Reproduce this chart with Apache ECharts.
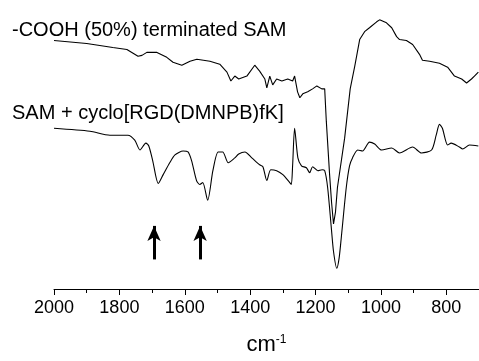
<!DOCTYPE html>
<html>
<head>
<meta charset="UTF-8"/>
<title>IR spectra</title>
<script src="https://cdn.jsdelivr.net/npm/echarts@6/dist/echarts.min.js"></script>
<style>
  html, body { margin: 0; padding: 0; background: #fff; }
  #chart { width: 479px; height: 361px; }
</style>
</head>
<body>
<div id="chart"></div>
<script type="text/javascript">
// wavenumber (cm-1) and relative intensity (a.u.)
var coohWave = [2000,1900,1820,1777,1743,1731,1716,1685,1655,1636,1609,1584,1563,1523,1493,1471,1459,1447,1435,1410,
  1386,1371,1355,1349,1340,1331,1319,1303,1285,1270,1264,1255,1248,1239,1224,1209,1196,1181,1172,1167,
  1157,1151,1145,1139,1133,1111,1094,1080,1065,1050,1035,1013,1004,983,967,952,943,922,903,882,
  873,851,821,796,775,753,738,723,714,702];
var coohVal = [252,249,245,243,236,237,240,240,235,230,227,231,233,231,228,220,211,216,213,216,
  227,221,213,204,216,207,213,211,213,211,216,200,194,198,200,203,206,203,203,170,
  116,88,66,78,103,153,203,226,253,261,265,271,273,270,265,256,253,252,248,238,
  232,231,229,225,216,213,209,213,216,220];

var rgdWave = [2000,1890,1829,1774,1753,1737,1719,1710,1698,1681,1666,1646,1630,1605,1590,1579,1564,1554,1545,1530,
  1514,1498,1484,1467,1447,1435,1416,1395,1371,1361,1349,1337,1319,1300,1279,1274,1270,1264,1254,1243,
  1228,1218,1209,1193,1180,1172,1163,1152,1145,1135,1128,1121,1106,1096,1087,1071,1056,1035,1019,998,
  967,943,903,876,845,831,821,812,796,785,760,750,729,702];
var rgdVal = [163,160,156,156,151,141,148,145,130,107,116,128,136,140,139,130,110,106,108,90,
  120,139,139,128,133,137,139,133,126,124,110,121,120,116,108,106,126,163,133,125,
  123,118,124,120,121,120,103,63,38,21,31,53,103,125,133,141,140,149,147,141,
  143,138,144,138,141,156,167,163,146,148,144,142,146,145];

var tickValues = [2000,1800,1600,1400,1200,1000,800];
var minorTickValues = [1900,1700,1500,1300,1100,900];
var arrowWave = [1694,1553];

function pairs(w, v) {
  var out = [];
  for (var i = 0; i < w.length; i++) out.push([w[i], v[i]]);
  return out;
}

var arrowLines = arrowWave.map(function (w) {
  return [{coord: [w, 30]}, {coord: [w, 64]}];
});

var chart = echarts.init(document.getElementById('chart'));
chart.setOption({
  animation: false,
  textStyle: { fontFamily: 'Liberation Sans, Arial, sans-serif' },
  grid: { left: 54, right: 0, top: 10, bottom: 68 },
  graphic: [
    { type: 'text', left: 12, top: 20,
      style: { text: '-COOH (50%) terminated SAM', fontSize: 20, fill: '#000', fontFamily: 'Liberation Sans' } },
    { type: 'text', left: 12, top: 103,
      style: { text: 'SAM + cyclo[RGD(DMNPB)fK]', fontSize: 20, fill: '#000', fontFamily: 'Liberation Sans' } }
  ],
  xAxis: [{
    type: 'value', inverse: true, min: 700, max: 2000,
    name: '{a|cm}{b|-1}', nameLocation: 'middle', nameGap: 45,
    nameTextStyle: { rich: {
      a: { fontSize: 22, color: '#000', fontFamily: 'Liberation Sans' },
      b: { fontSize: 12, color: '#000', fontFamily: 'Liberation Sans', verticalAlign: 'top' }
    } },
    splitLine: { show: false },
    axisLine: { lineStyle: { color: '#000', width: 1 } },
    axisTick: { inside: false, length: 6, lineStyle: { color: '#000' }, customValues: tickValues },
    axisLabel: { fontSize: 18, color: '#000', margin: 10, customValues: tickValues,
      formatter: function (v) { return String(v); } }
  }, {
    type: 'value', inverse: true, min: 700, max: 2000, position: 'bottom',
    splitLine: { show: false },
    axisLine: { show: false },
    axisTick: { inside: false, length: 4, lineStyle: { color: '#000' }, customValues: minorTickValues },
    axisLabel: { show: false }
  }],
  yAxis: { type: 'value', min: 0, max: 283, show: false },
  series: [{
    name: '-COOH (50%) terminated SAM',
    type: 'line', showSymbol: false, silent: true,
    data: pairs(coohWave, coohVal),
    lineStyle: { color: '#000', width: 1.1 }
  }, {
    name: 'SAM + cyclo[RGD(DMNPB)fK]',
    type: 'line', showSymbol: false, silent: true, smooth: 0.25,
    data: pairs(rgdWave, rgdVal),
    lineStyle: { color: '#000', width: 1.1 },
    markLine: {
      silent: true,
      symbol: ['none', 'arrow'],
      symbolSize: [10, 15],
      label: { show: false },
      lineStyle: { color: '#000', width: 3, type: 'solid' },
      data: arrowLines
    }
  }]
});
</script>
</body>
</html>
